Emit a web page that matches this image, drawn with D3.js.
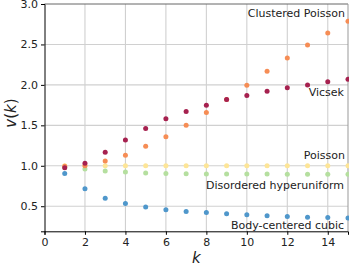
<!DOCTYPE html>
<html><head><meta charset="utf-8">
<script src="https://cdn.jsdelivr.net/npm/d3@7"></script>
<style>body{margin:0;background:#fff}svg{display:block}text{font-family:"DejaVu Sans",sans-serif}</style>
</head><body>
<svg id="c" width="349" height="266"></svg>
<script>
const k = [1,2,3,4,5,6,7,8,9,10,11,12,13,14,15];
const poisson = [1.0,1.0,1.0,1.0,1.0,1.0,1.0,1.0,1.0,1.0,1.0,1.0,1.0,1.0,1.0];
const hyperuniform = [0.98,0.96,0.934,0.922,0.91,0.905,0.90,0.898,0.897,0.897,0.897,0.896,0.896,0.896,0.896];
const bcc = [0.905,0.715,0.60,0.535,0.49,0.455,0.435,0.423,0.406,0.394,0.381,0.374,0.365,0.361,0.353];
const clustered = [0.995,1.0,1.058,1.13,1.24,1.36,1.50,1.66,1.82,1.995,2.168,2.333,2.494,2.642,2.787];
const vicsek = [0.975,1.03,1.166,1.32,1.46,1.58,1.67,1.748,1.82,1.87,1.92,1.965,2.0,2.04,2.07];
const xTicks = [0,2,4,6,8,10,12,14];
const yTicks = [0.5,1.0,1.5,2.0,2.5,3.0];

const series = [
  {name:"Poisson", values:poisson, color:"#fde597", label:[345,159]},
  {name:"Disordered hyperuniform", values:hyperuniform, color:"#b5df9f", label:[344,189]},
  {name:"Body-centered cubic", values:bcc, color:"#4f97cb", label:[344,229]},
  {name:"Clustered Poisson", values:clustered, color:"#f68d55", label:[345,16.5]},
  {name:"Vicsek", values:vicsek, color:"#a6214f", label:[344,96]}
];

const L=44.5, R=348, T=4, B=231.3;
const svg = d3.select("#c");
const x = d3.scaleLinear().domain([0,15]).range([L,R]);
const y = d3.scaleLinear().domain([0.19,3.0]).range([B,T]);

// grid
svg.append("g").selectAll("line").data(xTicks.filter(d=>d>0)).join("line")
  .attr("x1",d=>x(d)).attr("x2",d=>x(d)).attr("y1",T).attr("y2",B)
  .attr("stroke","#d0d0d0").attr("stroke-width",1.1);
svg.append("g").selectAll("line").data(yTicks.filter(d=>d<3)).join("line")
  .attr("x1",L).attr("x2",R).attr("y1",d=>y(d)).attr("y2",d=>y(d))
  .attr("stroke","#d0d0d0").attr("stroke-width",1.1);

// top/right spines
svg.append("line").attr("x1",L).attr("x2",R).attr("y1",T).attr("y2",T).attr("stroke","#666").attr("stroke-width",1);
svg.append("line").attr("x1",R).attr("x2",R).attr("y1",T).attr("y2",B).attr("stroke","#999").attr("stroke-width",1);

// axes
const xa = svg.append("g").attr("transform",`translate(0,${B})`)
  .call(d3.axisBottom(x).tickValues(xTicks).tickFormat(d3.format("d")).tickSizeOuter(0).tickSize(3.5).tickPadding(3));
const ya = svg.append("g").attr("transform",`translate(${L},0)`)
  .call(d3.axisLeft(y).tickValues(yTicks).tickFormat(d3.format(".1f")).tickSizeOuter(0).tickSize(3.5).tickPadding(3));
[xa,ya].forEach(a=>{
  a.select(".domain").attr("stroke","#000").attr("stroke-width",1);
  a.selectAll(".tick line").attr("stroke","#000");
  a.selectAll(".tick text").attr("font-size",11).attr("fill","#222").attr("font-family","DejaVu Sans");
});

// points
series.forEach(s=>{
  svg.append("g").selectAll("circle").data(k).join("circle")
    .attr("cx",(d)=>x(d)).attr("cy",(d,i)=>y(s.values[i])).attr("r",2.5)
    .attr("fill",s.color);
});

// labels
series.forEach(s=>{
  svg.append("text").attr("x",s.label[0]).attr("y",s.label[1]).attr("text-anchor","end")
    .attr("font-size",11).attr("fill","#222").text(s.name);
});

// axis labels
svg.append("text").attr("x",(L+R)/2).attr("y",263).attr("text-anchor","middle")
  .attr("font-size",15).attr("font-style","italic").attr("fill","#222").text("k");
svg.append("text").attr("transform",`translate(16,113) rotate(-90)`).attr("text-anchor","middle")
  .attr("font-size",15).attr("fill","#222")
  .html('<tspan font-style="italic">v</tspan>(<tspan font-style="italic">k</tspan>)');
</script>
</body></html>
